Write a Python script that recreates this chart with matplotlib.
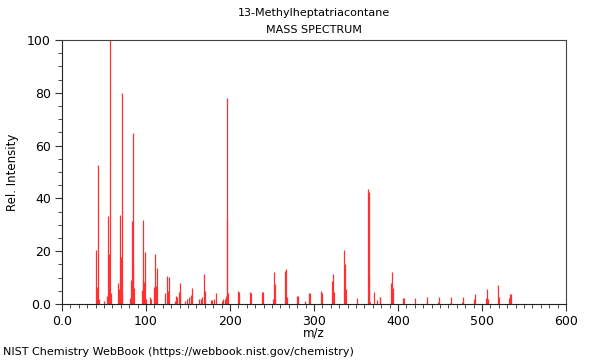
import numpy as np
import matplotlib
matplotlib.use("Agg")
import matplotlib.pyplot as plt
from matplotlib.ticker import MultipleLocator

# ── 谱图数据 ─────────────────────────────────────
mz = [41, 42, 43, 44, 50, 54, 55, 56, 57, 58,
      67, 68, 69, 70, 71, 72, 81, 82, 83, 84, 85, 86,
      95, 96, 97, 98, 99, 100, 105, 106, 109, 111, 112, 113,
      123, 125, 126, 127, 135, 136, 137, 139, 140, 141,
      147, 149, 151, 153, 154, 155, 163, 165, 167, 169, 170,
      177, 179, 181, 183, 190, 192, 194, 195, 196, 197, 198,
      210, 211, 224, 225, 238, 239, 251, 252, 253, 254,
      266, 267, 268, 280, 281, 289, 294, 295, 308, 309,
      322, 323, 324, 336, 337, 338, 351, 364, 365, 366, 367,
      372, 375, 378, 379, 392, 393, 394, 406, 407, 420,
      434, 435, 448, 449, 462, 463, 476, 477, 491, 492,
      505, 506, 507, 519, 520, 532, 533, 534]
intensity = [20.5, 6.6, 52.5, 1.8, 1.3, 3.0, 33.3, 19.0, 100.0, 4.3,
             8.0, 5.5, 33.7, 17.7, 80.0, 4.0, 2.4, 9.0, 31.5, 15.0, 64.6, 6.0,
             5.3, 9.0, 32.0, 8.5, 19.8, 2.0, 2.5, 2.0, 6.5, 19.0, 7.0, 13.5,
             4.0, 10.6, 5.0, 10.4, 1.0, 3.0, 2.5, 4.5, 3.0, 7.8,
             1.0, 2.0, 2.5, 3.5, 3.0, 6.0, 2.0, 2.0, 2.5, 11.4, 5.0,
             1.5, 1.5, 2.0, 4.0, 1.0, 2.0, 2.0, 3.0, 78.0, 31.8, 4.0,
             4.9, 4.5, 4.5, 4.0, 4.5, 4.5, 2.0, 12.2, 7.5, 2.0,
             12.6, 13.1, 2.5, 3.0, 3.0, 1.0, 4.0, 4.0, 5.0, 4.0,
             8.8, 11.4, 4.4, 20.5, 15.2, 5.7, 2.1, 43.4, 42.5, 10.6, 0.6,
             4.4, 1.5, 2.8, 2.5, 8.0, 12.0, 6.2, 2.4, 2.4, 2.4,
             1.2, 2.6, 0.6, 2.5, 0.5, 2.8, 0.8, 2.8, 1.8, 3.8,
             2.1, 5.6, 2.0, 7.2, 2.8, 2.1, 3.7, 3.7]

compound = "13-Methylheptatriacontane"

fig = plt.figure(figsize=(6, 3.6), dpi=100)
ax = fig.add_axes([62 / 600, 1 - 304 / 360, 504 / 600, 264 / 360])

ax.vlines(mz, 0, intensity, colors="#ff3030", linewidth=0.9)

ax.set_xlim(0, 600)
ax.set_ylim(0, 100)
ax.xaxis.set_minor_locator(MultipleLocator(10))
ax.yaxis.set_minor_locator(MultipleLocator(5))
ax.set_xticks(range(0, 601, 100))
ax.set_xticklabels(["0.0"] + [str(v) for v in range(100, 601, 100)])
ax.set_yticks(range(0, 101, 20))
ax.set_yticklabels(["0.0"] + [str(v) for v in range(20, 101, 20)])
ax.tick_params(which="major", direction="out", length=5, width=0.8, labelsize=9,
               color="#333333", pad=3)
ax.tick_params(which="minor", direction="out", length=3, width=0.6, color="#333333")

for side in ["left", "bottom"]:
    ax.spines[side].set_color("#222222")
for side in ["top", "right"]:
    ax.spines[side].set_color("#444444")

ax.set_xlabel("m/z", fontsize=8.5, labelpad=-1)
ax.set_ylabel("Rel. Intensity", fontsize=8.5, labelpad=6)

# 标题居中于绘图区
cx = (62 + 252) / 600
fig.text(cx, 1 - 13 / 360, compound, ha="center", va="center", fontsize=8)
fig.text(cx, 1 - 30 / 360, "MASS SPECTRUM", ha="center", va="center", fontsize=8)
fig.text(3 / 600, 1 - 352 / 360, "NIST Chemistry WebBook (https://webbook.nist.gov/chemistry)",
         ha="left", va="center", fontsize=8)

fig.savefig("out.png", dpi=100)
